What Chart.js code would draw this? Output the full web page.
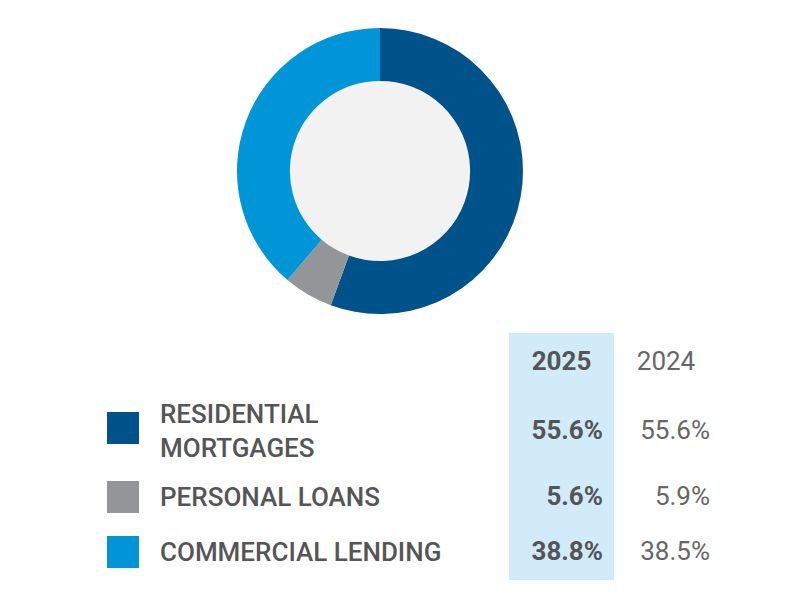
<!DOCTYPE html>
<html><head><meta charset="utf-8">
<script src="https://cdn.jsdelivr.net/npm/chart.js@4"></script>
<style>
body{margin:0;width:800px;height:600px;background:#fff;position:relative;font-family:Roboto,"DejaVu Sans",sans-serif;color:#555558;overflow:hidden}
#wrap{position:absolute;left:237px;top:28px;width:286px;height:286px}
.abs{position:absolute;white-space:nowrap}
.hl{position:absolute;left:509px;top:333px;width:105px;height:247px;background:#d2ebf8}
.lab{font-size:26px;font-weight:500;line-height:34px;left:160px}
.sq{width:32px;height:32px;left:107px}
.v25{font-size:26px;font-weight:700;right:197px}
.v24{font-size:26px;font-weight:400;right:90px;color:#666}
</style></head><body>
<div class="hl"></div>
<div id="wrap"><canvas id="c"></canvas></div>
<div id="leg"></div>
<script>
const categories=["RESIDENTIAL MORTGAGES","PERSONAL LOANS","COMMERCIAL LENDING"];
const labelLines=[["RESIDENTIAL","MORTGAGES"],["PERSONAL LOANS"],["COMMERCIAL LENDING"]];
const values2025=[55.6,5.6,38.8];
const values2024=[55.6,5.9,38.5];
const colors=["#00528a","#939598","#0095d6"];
const years=["2025","2024"];
const rowY=[431,497,552];
const sqY=[412,481,536];
const leg=document.getElementById('leg');
let h='';
h+=`<div class="abs" style="font-size:26px;font-weight:700;left:509px;width:105px;text-align:center;top:346px">${years[0]}</div>`;
h+=`<div class="abs" style="font-size:26px;color:#666;left:615px;width:102px;text-align:center;top:346px">${years[1]}</div>`;
categories.forEach((c,i)=>{
 const lines=labelLines[i];
 const top=rowY[i]-lines.length*17;
 h+=`<div class="abs sq" style="top:${sqY[i]}px;background:${colors[i]}"></div>`;
 h+=`<div class="abs lab" style="top:${top}px">${lines.join('<br>')}</div>`;
 h+=`<div class="abs v25" style="top:${rowY[i]-16}px">${values2025[i].toFixed(1)}%</div>`;
 h+=`<div class="abs v24" style="top:${rowY[i]-16}px">${values2024[i].toFixed(1)}%</div>`;
});
leg.innerHTML=h;
const centerFill={id:'cf',beforeDatasetsDraw(ch){const m=ch.getDatasetMeta(0).data[0];if(!m)return;const g=ch.ctx;g.save();g.fillStyle='#f2f2f2';g.beginPath();g.arc(m.x,m.y,m.innerRadius,0,Math.PI*2);g.fill();g.restore();}};
new Chart(document.getElementById('c'),{type:'doughnut',
data:{labels:categories,datasets:[{data:values2025,backgroundColor:colors,borderWidth:0}]},
options:{responsive:true,maintainAspectRatio:false,cutout:'63%',animation:false,
plugins:{legend:{display:false},tooltip:{enabled:false}},layout:{padding:0}},
plugins:[centerFill]});
</script></body></html>
